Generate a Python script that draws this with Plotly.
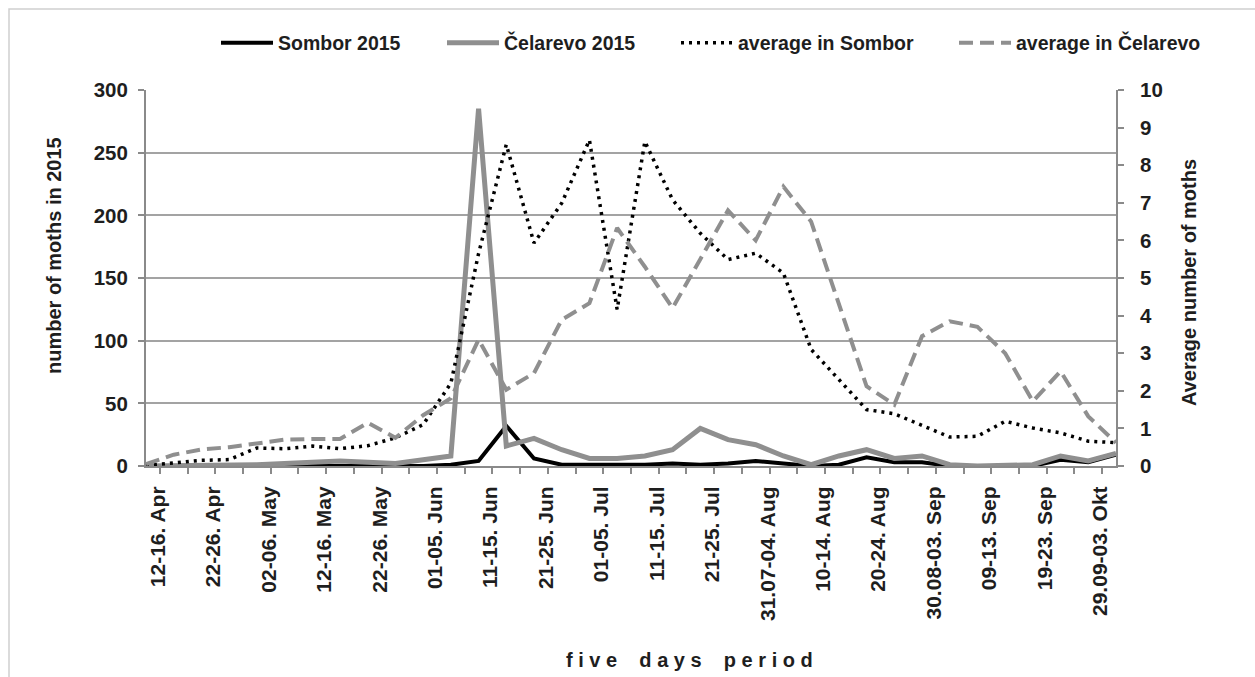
import plotly.graph_objects as go

# Five-day trapping periods (x categories)
periods = [
    "12-16. Apr", "17-21. Apr", "22-26. Apr", "27.04-01. May", "02-06. May",
    "07-11. May", "12-16. May", "17-21. May", "22-26. May", "27-31. May",
    "01-05. Jun", "06-10. Jun", "11-15. Jun", "16-20. Jun", "21-25. Jun",
    "26-30. Jun", "01-05. Jul", "06-10. Jul", "11-15. Jul", "16-20. Jul",
    "21-25. Jul", "26-30. Jul", "31.07-04. Aug", "05-09. Aug", "10-14. Aug",
    "15-19. Aug", "20-24. Aug", "25-29. Aug", "30.08-03. Sep", "04-08. Sep",
    "09-13. Sep", "14-18. Sep", "19-23. Sep", "24-28. Sep", "29.09-03. Okt",
    "04-08. Okt",
]
# every second period carries a label
tick_text = [p if i % 2 == 0 else "" for i, p in enumerate(periods)]

# moths caught in 2015 (left axis)
sombor_2015 = [0, 0, 0, 0, 0, 0, 0, 0, 0, 0, 0, 1, 4, 32, 6, 1, 1, 1,
               1, 2, 1, 2, 4, 2, 0, 1, 7, 3, 3, 0, 0, 0, 0, 5, 3, 9]
celarevo_2015 = [0, 0, 0, 1, 1, 2, 3, 4, 3, 2, 5, 8, 285, 16, 22, 13, 6, 6,
                 8, 13, 30, 21, 17, 8, 1, 8, 13, 6, 8, 1, 0, 0, 1, 8, 4, 10]

# multi-year averages (right axis)
avg_sombor = [0.01, 0.08, 0.15, 0.17, 0.48, 0.46, 0.53, 0.46, 0.54, 0.75,
              1.1, 2.2, 5.65, 8.55, 5.93, 6.99, 8.67, 4.16, 8.63, 7.08,
              6.19, 5.49, 5.66, 5.13, 3.1, 2.3, 1.5, 1.39, 1.08, 0.77,
              0.79, 1.19, 1.01, 0.88, 0.66, 0.62]
avg_celarevo = [0.05, 0.3, 0.44, 0.5, 0.6, 0.7, 0.72, 0.72, 1.15, 0.75,
                1.35, 1.8, 3.36, 2.03, 2.47, 3.89, 4.33, 6.33, 5.3, 4.2,
                5.5, 6.8, 6.0, 7.43, 6.5, 4.3, 2.12, 1.63, 3.45, 3.85,
                3.7, 3.0, 1.72, 2.52, 1.32, 0.62]

FONT = "Liberation Sans, Arial, sans-serif"
TXT = "#1e1e1e"
GRID = "#a3a3a3"
AXIS = "#8a8a8a"
GRAY = "#8f8f8f"

W, H = 1255, 677
M_L, M_R, M_T, M_B = 146, 139, 90, 211
PW = W - M_L - M_R
PH = H - M_T - M_B


def px_x(px):
    return (px - M_L) / PW


def px_y(py):
    return (H - M_B - py) / PH


fig = go.Figure()

fig.add_trace(go.Scatter(
    x=periods, y=sombor_2015, name="Sombor 2015", mode="lines",
    line=dict(color="#000000", width=4), legend="legend",
))
fig.add_trace(go.Scatter(
    x=periods, y=celarevo_2015, name="Čelarevo 2015", mode="lines",
    line=dict(color=GRAY, width=5), legend="legend2",
))
fig.add_trace(go.Scatter(
    x=periods, y=avg_sombor, name="average in Sombor", mode="lines",
    line=dict(color="#000000", width=3.5, dash="3px,5px"),
    yaxis="y2", legend="legend3",
))
fig.add_trace(go.Scatter(
    x=periods, y=avg_celarevo, name="average in Čelarevo", mode="lines",
    line=dict(color=GRAY, width=4, dash="14px,7px"),
    yaxis="y2", legend="legend4",
))

legend_font = dict(family=FONT, size=19.5, color=TXT, weight="bold")
legend_common = dict(
    orientation="h", xanchor="left", yanchor="middle", y=px_y(43),
    font=legend_font, bgcolor="rgba(0,0,0,0)", itemwidth=52,
)
legend_starts = {"legend": 216, "legend2": 442, "legend3": 676, "legend4": 954}

x_tick_font = dict(family=FONT, size=21, color=TXT, weight="bold")
y_tick_font = dict(family=FONT, size=20.5, color=TXT, weight="bold")
title_font = dict(family=FONT, size=20, color=TXT, weight="bold")

fig.update_layout(
    width=W, height=H,
    margin=dict(l=M_L, r=M_R, t=M_T, b=M_B),
    paper_bgcolor="white", plot_bgcolor="white",
    font=dict(family=FONT, color=TXT),
    showlegend=True,
    xaxis=dict(
        type="category", categoryorder="array", categoryarray=periods,
        tickmode="array", tickvals=periods, ticktext=tick_text,
        tickson="boundaries", ticks="outside", ticklen=6, tickcolor=AXIS,
        tickwidth=1.5, tickangle=-90, ticklabelstandoff=10,
        ticklabelshift=12, tickfont=x_tick_font,
        showline=True, linecolor=AXIS, linewidth=2, showgrid=False,
        zeroline=False,
    ),
    yaxis=dict(
        range=[0, 300], dtick=50, tick0=0, ticks="outside", ticklen=6,
        tickcolor=AXIS, tickwidth=1.5, ticklabelstandoff=6,
        tickfont=y_tick_font,
        showline=True, linecolor=AXIS, linewidth=2,
        showgrid=True, gridcolor=GRID, gridwidth=2, zeroline=False,
    ),
    yaxis2=dict(
        overlaying="y", side="right", range=[0, 10], dtick=1, tick0=0,
        ticks="outside", ticklen=6, tickcolor=AXIS, tickwidth=1.5,
        ticklabelstandoff=12, tickfont=y_tick_font,
        showline=True, linecolor=AXIS, linewidth=2, showgrid=False,
        zeroline=False,
    ),
)

for key, start in legend_starts.items():
    fig.update_layout({key: dict(legend_common, x=px_x(start))})

# axis titles
fig.add_annotation(
    text="number of moths in 2015", textangle=-90,
    xref="paper", yref="paper", x=px_x(54), y=px_y(256),
    xanchor="center", yanchor="middle", showarrow=False, font=title_font,
)
fig.add_annotation(
    text="Average number of moths", textangle=-90,
    xref="paper", yref="paper", x=px_x(1189), y=px_y(283),
    xanchor="center", yanchor="middle", showarrow=False, font=title_font,
)

# x axis title with wide letter spacing
gap = "\u00a0"
word_gap = "\u00a0" * 4
fig.add_annotation(
    text=word_gap.join(gap.join(w) for w in ["five", "days", "period"]),
    xref="paper", yref="paper", x=px_x(689), y=px_y(660),
    xanchor="center", yanchor="middle", showarrow=False,
    font=dict(family=FONT, size=20, color=TXT, weight="bold"),
)

# light frame around the whole chart
fig.add_shape(
    type="rect", xref="paper", yref="paper",
    x0=px_x(9), x1=px_x(1262), y0=px_y(690), y1=px_y(9),
    line=dict(color="#cfcfcf", width=1.5), fillcolor="rgba(0,0,0,0)",
    layer="below",
)

fig.write_html("out.html")
